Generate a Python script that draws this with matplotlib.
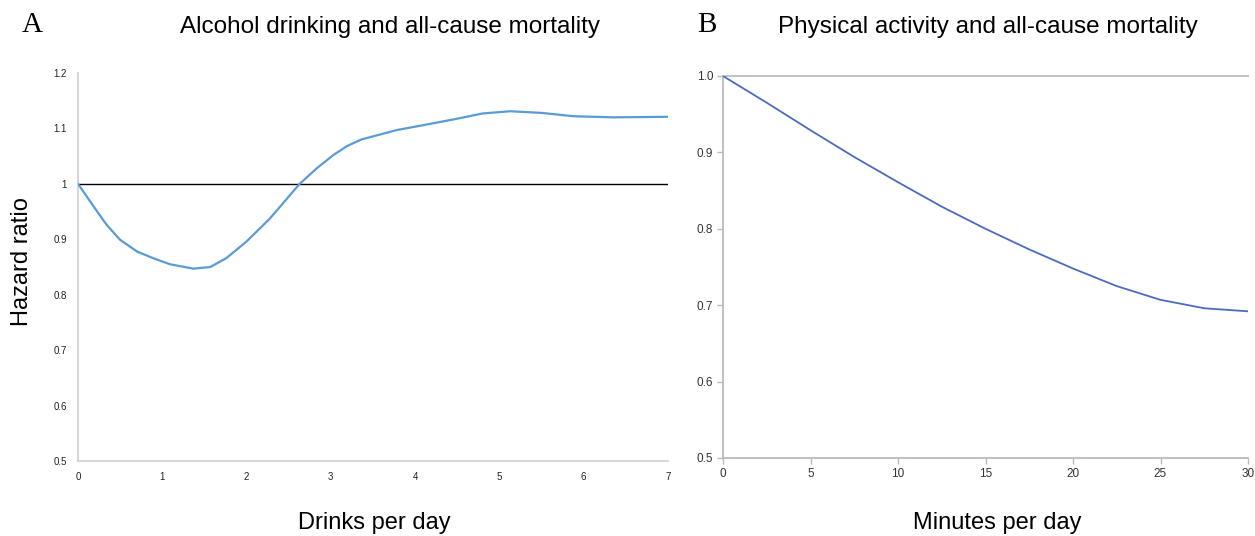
import matplotlib.pyplot as plt

# Panel A: alcohol drinking vs hazard ratio
drinks = [0, 0.20, 0.34, 0.50, 0.70, 0.89, 1.09, 1.37, 1.57, 1.76, 2.0,
          2.28, 2.63, 2.84, 3.03, 3.19, 3.36, 3.78, 4.10, 4.48, 4.80, 5.13,
          5.50, 5.88, 6.35, 7.0]
hr_alcohol = [1.0, 0.956, 0.926, 0.899, 0.878, 0.866, 0.855, 0.847, 0.850,
              0.866, 0.896, 0.938, 1.0, 1.029, 1.052, 1.068, 1.080, 1.097,
              1.106, 1.117, 1.127, 1.131, 1.128, 1.122, 1.120, 1.121]
alc_xticks = [0, 1, 2, 3, 4, 5, 6, 7]
alc_yticks = [0.5, 0.6, 0.7, 0.8, 0.9, 1.0, 1.1, 1.2]
alc_ylabels = ['0.5', '0.6', '0.7', '0.8', '0.9', '1', '1.1', '1.2']

# Panel B: physical activity vs hazard ratio
minutes = [0, 2.5, 5, 7.5, 10, 12.5, 15, 17.5, 20, 22.5, 25, 27.5, 30]
hr_activity = [1.0, 0.965, 0.929, 0.894, 0.861, 0.829, 0.800, 0.773,
               0.748, 0.725, 0.707, 0.696, 0.692]
act_xticks = [0, 5, 10, 15, 20, 25, 30]
act_yticks = [0.5, 0.6, 0.7, 0.8, 0.9, 1.0]

W, H = 1255, 536
fig = plt.figure(figsize=(W / 100, H / 100), dpi=100)
sans = 'Liberation Sans'
serif = 'Liberation Serif'

def box(l, r, t, b):
    return [l / W, 1 - b / H, (r - l) / W, (b - t) / H]

# ---- Panel A ----
ax1 = fig.add_axes(box(78, 668, 73, 461))
ax1.plot(drinks, hr_alcohol, color='#5b9bd5', lw=1.6, zorder=3,
         solid_joinstyle='round')
ax1.plot([0, 7], [1.0, 1.0], color='black', lw=1.0, zorder=2)
ax1.set_xlim(0, 7)
ax1.set_ylim(0.5, 1.2)
ax1.set_xticks(alc_xticks)
ax1.set_xticklabels([str(v) for v in alc_xticks])
ax1.set_yticks(alc_yticks)
ax1.set_yticklabels(alc_ylabels)
for s in ['top', 'right']:
    ax1.spines[s].set_visible(False)
for s in ['left', 'bottom']:
    ax1.spines[s].set_color('#d0d0d0')
    ax1.spines[s].set_linewidth(1.2)
ax1.tick_params(length=0, labelsize=7, pad=8, colors='#222222')
for lab in ax1.get_xticklabels() + ax1.get_yticklabels():
    lab.set_fontfamily(sans)

# ---- Panel B ----
ax2 = fig.add_axes(box(723, 1248, 76, 458))
ax2.plot(minutes, hr_activity, color='#4a6bbf', lw=1.3, zorder=3,
         solid_joinstyle='round')
ax2.set_xlim(0, 30)
ax2.set_ylim(0.5, 1.0)
ax2.set_xticks(act_xticks)
ax2.set_yticks(act_yticks)
ax2.set_yticklabels(['0.5', '0.6', '0.7', '0.8', '0.9', '1.0'])
ax2.spines['right'].set_visible(False)
for s in ['left', 'bottom', 'top']:
    ax2.spines[s].set_color('#b8bcc0')
    ax2.spines[s].set_linewidth(1.3)
ax2.tick_params(length=4, width=1, color='#b8bcc0', labelsize=8.5,
                labelcolor='#333333', pad=3)
for lab in ax2.get_xticklabels() + ax2.get_yticklabels():
    lab.set_fontfamily(sans)

# ---- Texts ----
fig.text(22 / W, 1 - 25 / H, 'A', family=serif, fontsize=21, va='center', ha='left')
fig.text(697 / W, 1 - 25 / H, 'B', family=serif, fontsize=21, va='center', ha='left')
fig.text(390 / W, 1 - 27 / H, 'Alcohol drinking and all-cause mortality',
         family=sans, fontsize=17.5, ha='center', va='center')
fig.text(988 / W, 1 - 27 / H, 'Physical activity and all-cause mortality',
         family=sans, fontsize=17.5, ha='center', va='center')
fig.text(374 / W, 1 - 523 / H, 'Drinks per day', family=sans, fontsize=17,
         ha='center', va='center')
fig.text(997 / W, 1 - 523 / H, 'Minutes per day', family=sans, fontsize=17,
         ha='center', va='center')
fig.text(22 / W, 1 - 262 / H, 'Hazard ratio', family=sans, fontsize=17,
         ha='center', va='center', rotation=90)

fig.savefig('out.png', dpi=100)
